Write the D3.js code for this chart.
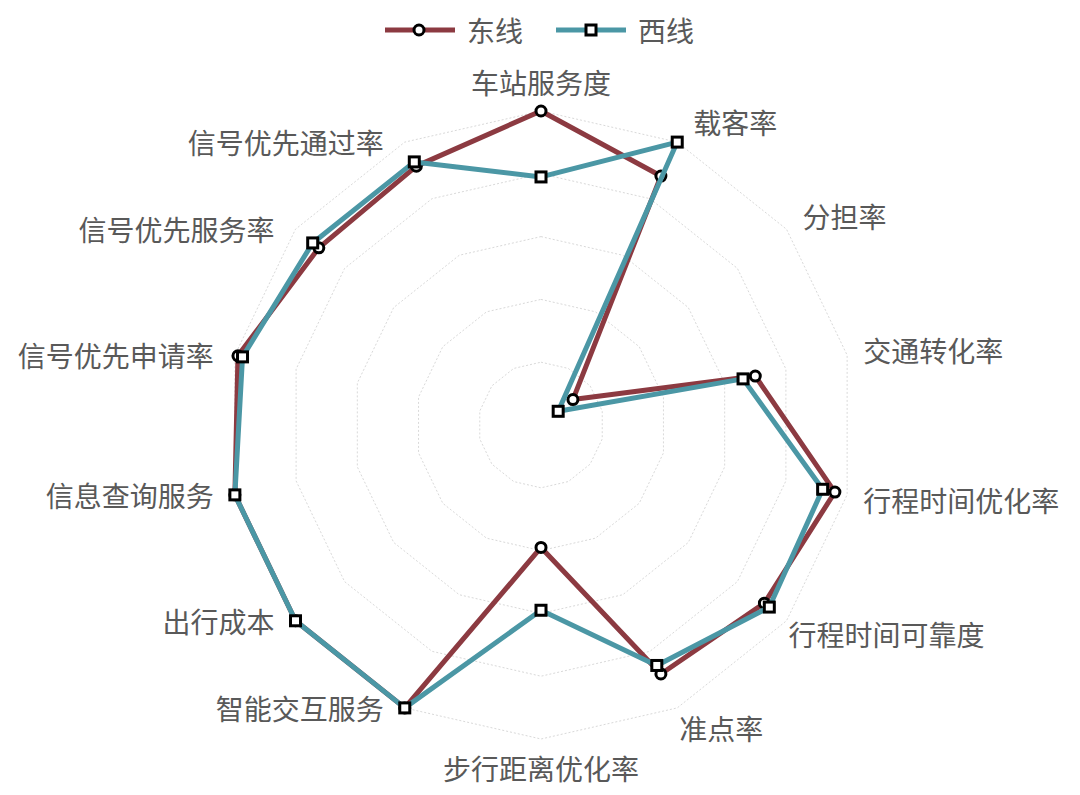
<!DOCTYPE html>
<html>
<head>
<meta charset="utf-8">
<script src="https://cdn.jsdelivr.net/npm/d3@7"></script>
<style>
  html, body { margin: 0; padding: 0; background: #fff; }
  svg { display: block; font-family: "Noto Sans CJK SC", "Noto Sans", sans-serif; }
</style>
</head>
<body>
<svg id="chart" width="1080" height="795"></svg>
<script>
// ---- data ----
const categories = ["车站服务度", "载客率", "分担率", "交通转化率", "行程时间优化率", "行程时间可靠度", "准点率",
  "步行距离优化率", "智能交互服务", "出行成本", "信息查询服务", "信号优先申请率", "信号优先服务率", "信号优先通过率"];
const seriesNames = ["东线", "西线"];
const eastValues = [100, 88, 13, 70, 96, 91, 88, 39, 100, 100, 100, 99, 90.5, 91.5];
const westValues = [79, 100, 7, 66, 92, 93, 85, 59, 100, 100, 100, 97.5, 93, 93];
const ringTicks = [20, 40, 60, 80, 100];

// ---- layout ----
const svg = d3.select("#chart");
const cx = 541, cy = 425, R = 314;
const colors = ["#8C3A41", "#4B97A5"];
const n = categories.length;

const angle = d3.scaleLinear().domain([0, n]).range([0, 2 * Math.PI]);
const radius = d3.scaleLinear().domain([0, 100]).range([0, R]);

const g = svg.append("g").attr("transform", `translate(${cx},${cy})`);

// grid rings
const ringLine = d3.lineRadial().curve(d3.curveLinearClosed)
  .angle((d, i) => angle(i)).radius(d => radius(d));
g.append("g").selectAll("path").data(ringTicks).join("path")
  .attr("d", t => ringLine(d3.range(n).map(() => t)))
  .attr("fill", "none").attr("stroke", "#d9d9d9").attr("stroke-width", 1)
  .attr("stroke-dasharray", "2,2");

// axis labels
function labelPos(i) {
  const s = Math.sin(angle(i)), c = Math.cos(angle(i));
  const vx = R * s, vy = -R * c;
  if (Math.abs(s) < 0.1) return [vx, vy - c * 29, "middle"];
  if (s > 0) return [vx + (c < -0.5 ? 2 : 16), vy - c * 22, "start"];
  return [vx - 21, vy, "end"];
}
g.append("g").selectAll("text").data(categories).join("text")
  .attr("x", (d, i) => labelPos(i)[0])
  .attr("y", (d, i) => labelPos(i)[1])
  .attr("text-anchor", (d, i) => labelPos(i)[2])
  .attr("dominant-baseline", "central")
  .attr("font-size", 28).attr("fill", "#595959")
  .text(d => d);

// series
const seriesLine = d3.lineRadial().curve(d3.curveLinearClosed)
  .angle((d, i) => angle(i)).radius(d => radius(d));
const allSeries = [eastValues, westValues];

allSeries.forEach((vals, si) => {
  const sg = g.append("g");
  sg.append("path").attr("d", seriesLine(vals))
    .attr("fill", "none").attr("stroke", colors[si]).attr("stroke-width", 5)
    .attr("stroke-linejoin", "round");
  const pts = vals.map((v, i) => [radius(v) * Math.sin(angle(i)), -radius(v) * Math.cos(angle(i))]);
  if (si === 0) {
    sg.selectAll("circle").data(pts).join("circle")
      .attr("cx", d => d[0]).attr("cy", d => d[1]).attr("r", 5)
      .attr("fill", "#fff").attr("stroke", "#000").attr("stroke-width", 3);
  } else {
    sg.selectAll("rect").data(pts).join("rect")
      .attr("x", d => d[0] - 5).attr("y", d => d[1] - 5).attr("width", 10).attr("height", 10)
      .attr("fill", "#fff").attr("stroke", "#000").attr("stroke-width", 3);
  }
});

// legend
const legend = svg.append("g").attr("transform", "translate(385,30)");
const legendX = [0, 171];
seriesNames.forEach((name, si) => {
  const lg = legend.append("g").attr("transform", `translate(${legendX[si]},0)`);
  lg.append("line").attr("x1", 0).attr("x2", 70).attr("y1", 0).attr("y2", 0)
    .attr("stroke", colors[si]).attr("stroke-width", 5);
  if (si === 0) {
    lg.append("circle").attr("cx", 34).attr("cy", 0).attr("r", 5)
      .attr("fill", "#fff").attr("stroke", "#000").attr("stroke-width", 3);
  } else {
    lg.append("rect").attr("x", 30).attr("y", -5).attr("width", 10).attr("height", 10)
      .attr("fill", "#fff").attr("stroke", "#000").attr("stroke-width", 3);
  }
  lg.append("text").attr("x", 82).attr("y", 0).attr("dominant-baseline", "central")
    .attr("font-size", 28).attr("fill", "#595959").text(name);
});
</script>
</body>
</html>
